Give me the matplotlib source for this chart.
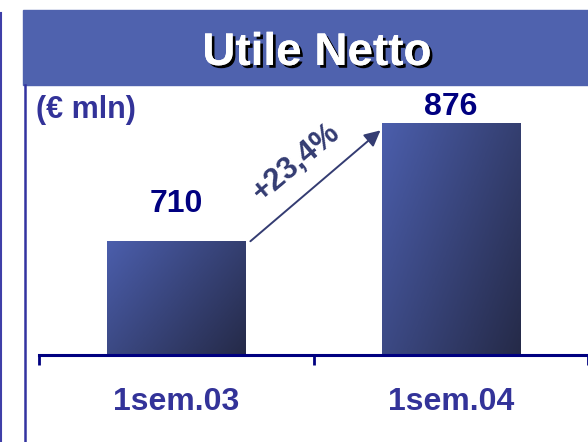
import numpy as np
import matplotlib
matplotlib.use('Agg')
import matplotlib.pyplot as plt
import matplotlib.patheffects as pe
from matplotlib.colors import LinearSegmentedColormap
from matplotlib.patches import Rectangle

plt.rcParams['font.family'] = ['Liberation Sans', 'DejaVu Sans']
plt.rcParams['font.weight'] = 'bold'

title = 'Utile Netto'
unit_label = '(€ mln)'
categories = ['1sem.03', '1sem.04']
values = [710, 876]
label_offsets = [16, 1]  # points above bar top

navy = '#000080'
label_blue = '#333399'
banner_blue = '#4F62AE'
arrow_col = '#343C72'

fig = plt.figure(figsize=(5.88, 4.42), dpi=100)
W, H = 588, 442

# title banner
fig.patches.append(Rectangle((23 / W, 1 - 85 / H), 1 - 23 / W, 75 / H,
                             transform=fig.transFigure, color=banner_blue, zorder=0))
fig.text(317 / W, 1 - 65 / H, title, color='white', fontsize=33, ha='center', va='baseline',
         path_effects=[pe.withSimplePatchShadow(offset=(2, -2), shadow_rgbFace='black', alpha=1),
                       pe.Normal()])

# frame lines on the left
fig.add_artist(plt.Line2D([1 / W, 1 / W], [0, 1 - 13 / H], transform=fig.transFigure,
                          color='#3F3FA8', lw=1.5))
fig.add_artist(plt.Line2D([25 / W, 25 / W], [0, 1 - 85 / H], transform=fig.transFigure,
                          color='#3333A0', lw=1.8))

fig.text(36 / W, 1 - 110 / H, unit_label, color=label_blue, fontsize=22, ha='left', va='center')

ax = fig.add_axes([39 / W, 87 / H, 1 - 39 / W, 270 / H])
ax.set_facecolor('none')
x = np.arange(len(categories)) + 0.5
width = 0.504
ax.set_xlim(0, (W - 39) / 277)
ymin = 550
ax.set_ylim(ymin, ymin + 270 * 1.4068)

cmap = LinearSegmentedColormap.from_list('bar', ['#4B5EAC', '#252A48'])
gx, gy = np.meshgrid(np.linspace(0, 1, 100), np.linspace(0, 1, 100))
grad = (gx * 0.6 + gy * 0.4)
bars = ax.bar(x, values, width=width, color='none', edgecolor='none', zorder=2)
for b, v in zip(bars, values):
    x0 = b.get_x()
    im = ax.imshow(grad, cmap=cmap, extent=[x0, x0 + width, ymin, v], aspect='auto',
                   origin='upper', zorder=2)
    im.set_clip_path(b)

for xi, v, off in zip(x, values, label_offsets):
    ax.annotate(str(v), (xi, v), xytext=(0, off), textcoords='offset points',
                ha='center', va='bottom', color=navy, fontsize=23)

# growth arrow
start = (x[0] + width / 2 + 0.018, values[0])
end = (x[1] - width / 2 - 0.004, values[1] - 10)
ax.annotate('', xy=end, xytext=start,
            arrowprops=dict(arrowstyle='-|>', mutation_scale=24, lw=1.4, color=arrow_col,
                            shrinkA=0, shrinkB=0))
growth = (values[1] / values[0] - 1) * 100
mid = ((start[0] + end[0]) / 2, (start[1] + end[1]) / 2)
ax.annotate(f'+{growth:.1f}%'.replace('.', ','), mid, xytext=(-14, 17), textcoords='offset points',
            ha='center', va='center', rotation=40, rotation_mode='anchor',
            color=arrow_col, fontsize=22)

for s in ['top', 'left', 'right']:
    ax.spines[s].set_visible(False)
ax.spines['bottom'].set_color(navy)
ax.spines['bottom'].set_linewidth(2.2)
ax.set_yticks([])
ax.set_xticks([0, 1, 2])
ax.set_xticklabels([])
ax.tick_params(axis='x', which='major', direction='out', length=7, width=2, color=navy)
ax.set_xticks(x, minor=True)
ax.set_xticklabels(categories, minor=True)
ax.tick_params(axis='x', which='minor', length=0, pad=23, labelsize=23, labelcolor=label_blue)

fig.savefig('out.png', dpi=100)
